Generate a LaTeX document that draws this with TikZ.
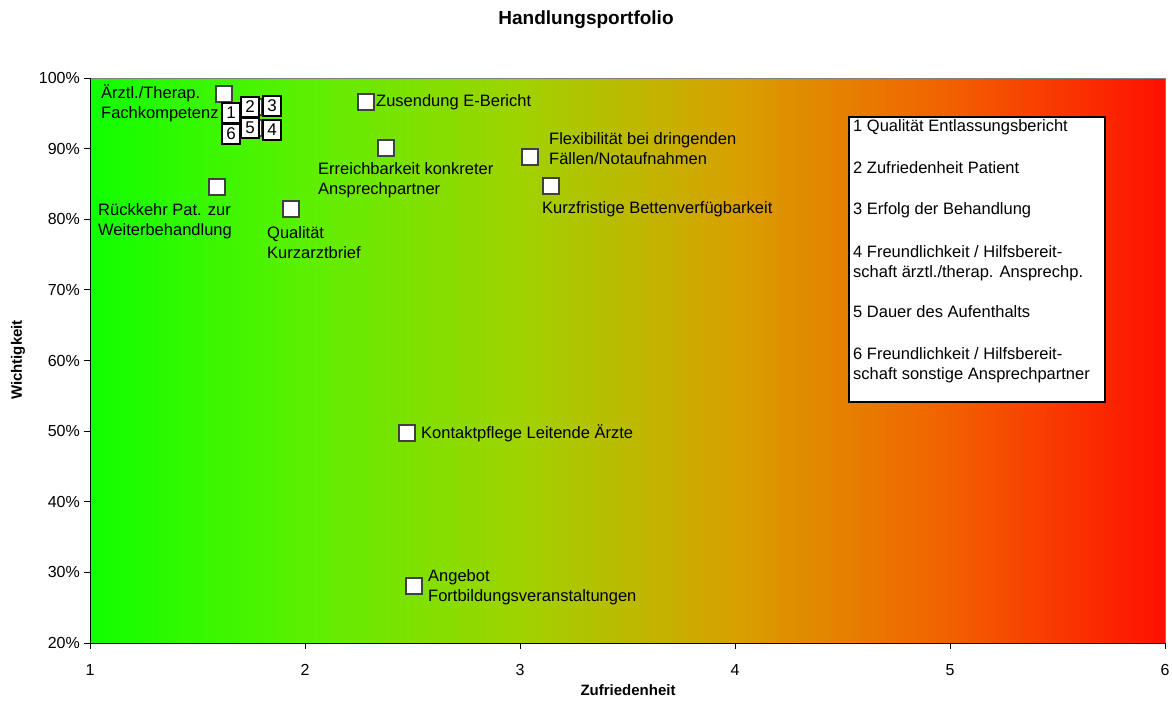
\documentclass[tikz,border=0pt]{standalone}
\usepackage{fontspec}
\setmainfont{Liberation Sans}
\definecolor{c1}{HTML}{10FF00}
\definecolor{c2}{HTML}{5CF000}
\definecolor{c3}{HTML}{A0D200}
\definecolor{c4}{HTML}{D8A000}
\definecolor{c5}{HTML}{F26000}
\definecolor{c6}{HTML}{FF1000}
\definecolor{mkborder}{HTML}{404040}
\begin{document}
\begin{tikzpicture}[x=1pt,y=-1pt,
  mk/.style={draw=mkborder, line width=1.3pt, fill=white, minimum size=16pt, inner sep=0pt},
  nb/.style={draw=black, line width=1.1pt, fill=white, minimum width=18pt, minimum height=20pt, inner sep=0pt, font=\fontsize{17}{18}\selectfont},
  lab/.style={inner sep=0pt, align=left, anchor=west, font=\fontsize{16.5}{20}\selectfont},
  tk/.style={inner sep=0pt, font=\fontsize{16}{18}\selectfont},
  axt/.style={inner sep=0pt, font=\bfseries\fontsize{15}{18}\selectfont}]
\useasboundingbox (0,0) rectangle (1172,702);
\fill[white] (0,0) rectangle (1172,702);
% background gradient
\shade[left color=c1, right color=c2] (90,78) rectangle (306.5,643);
\shade[left color=c2, right color=c3] (306,78) rectangle (521.5,643);
\shade[left color=c3, right color=c4] (521,78) rectangle (736.5,643);
\shade[left color=c4, right color=c5] (736,78) rectangle (951.5,643);
\shade[left color=c5, right color=c6] (951,78) rectangle (1165,643);
\draw[black!50, line width=0.8pt] (90,78) rectangle (1165,643);
\draw[black, line width=1pt] (90,78) -- (90,643) -- (1165,643);
% y ticks
\foreach \p in {20,30,...,100}{
  \pgfmathsetmacro\yy{643-(\p-20)*7.0625}
  \draw[black, line width=0.8pt] (84,\yy) -- (90,\yy);
  \node[tk, anchor=east] (yl\p) at (80,\yy) {\p\%};
}
% x ticks
\foreach \v in {1,...,6}{
  \pgfmathsetmacro\xx{90+(\v-1)*215}
  \draw[black, line width=0.8pt] (\xx,643) -- (\xx,649);
  \node[tk] (xl\v) at (\xx,670) {\v};
}
% titles
\node[inner sep=0pt, font=\bfseries\fontsize{19}{22}\selectfont] (title) at (586,20) {Handlungsportfolio};
\node[axt, rotate=90] (ytitle) at (18,360) {Wichtigkeit};
\node[axt] (xtitle) at (628,690) {Zufriedenheit};
% markers
\node[mk] (m1) at (224,94) {};
\node[mk] (m2) at (217,187) {};
\node[mk] (m3) at (291,209) {};
\node[mk] (m4) at (366,102) {};
\node[mk] (m5) at (386,148) {};
\node[mk] (m6) at (530,157) {};
\node[mk] (m7) at (551,186) {};
\node[mk] (m8) at (407,433) {};
\node[mk] (m9) at (414,586) {};
% hidden markers behind numbered boxes
\node[mk] (h2) at (254,107) {};
\node[mk] (h5) at (254,128) {};
% numbered boxes
\node[nb] (n3) at (272,106) {3};
\node[nb] (n4) at (272,130) {4};
\node[nb] (n2) at (250,107) {2};
\node[nb] (n5) at (250,128) {5};
\node[nb] (n6) at (231,134) {6};
\node[nb] (n1) at (231,113) {1};
% labels
\node[lab] (l1) at (101,103) {Ärztl./Therap.\\Fachkompetenz};
\node[lab] (l2) at (98,221) {Rückkehr Pat. zur\\Weiterbehandlung};
\node[lab] (l3) at (267,243) {Qualität\\Kurzarztbrief};
\node[lab] (l4) at (376,102) {Zusendung E-Bericht};
\node[lab] (l5) at (318,180) {Erreichbarkeit konkreter\\Ansprechpartner};
\node[lab] (l6) at (549,148.5) {Flexibilität bei dringenden\\Fällen/Notaufnahmen};
\node[lab] (l7) at (542,209) {Kurzfristige Bettenverfügbarkeit};
\node[lab] (l8) at (421,433) {Kontaktpflege Leitende Ärzte};
\node[lab] (l9) at (428,587) {Angebot\\Fortbildungsveranstaltungen};
% legend
\node[draw=black, line width=1.2pt, fill=white, minimum width=256pt, minimum height=285pt, inner sep=0pt] (legend) at (977,259.5) {};
\node[lab] (g1) at (853,127) {1 Qualität Entlassungsbericht};
\node[lab] (g2) at (853,168) {2 Zufriedenheit Patient};
\node[lab] (g3) at (853,210) {3 Erfolg der Behandlung};
\node[lab] (g4) at (853,263) {4 Freundlichkeit / Hilfsbereit-\\schaft ärztl./therap. Ansprechp.};
\node[lab] (g5) at (853,312) {5 Dauer des Aufenthalts};
\node[lab] (g6) at (853,365) {6 Freundlichkeit / Hilfsbereit-\\schaft sonstige Ansprechpartner};
\end{tikzpicture}
\end{document}
